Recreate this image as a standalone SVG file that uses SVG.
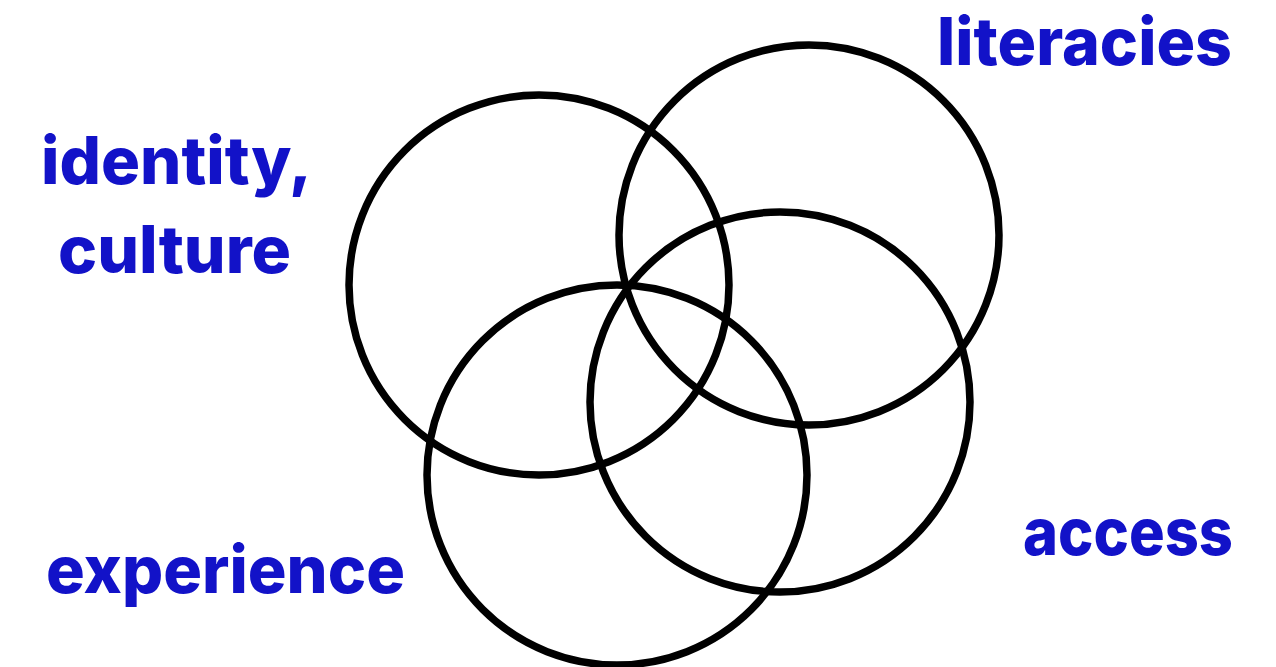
<svg xmlns="http://www.w3.org/2000/svg" width="1276" height="667" viewBox="0 0 1276 667">
<style>
.c{fill:none;stroke:#000;stroke-width:7.5}
.t{font-family:Inter,"Open Sans",sans-serif;font-weight:800;font-size:66px;fill:#1212c8}
</style>
<rect width="1276" height="667" fill="#fff"/>
<g id="circles">
<g id="circle-identity"><circle class="c" cx="539" cy="285" r="190"/></g>
<g id="circle-literacies"><circle class="c" cx="809" cy="235" r="190"/></g>
<g id="circle-access"><circle class="c" cx="780" cy="402" r="190"/></g>
<g id="circle-experience"><circle class="c" cx="617" cy="475" r="190"/></g>
</g>
<g id="labels">
<text class="t" x="41" y="184" textLength="271" lengthAdjust="spacingAndGlyphs">identity,</text>
<text class="t" x="58" y="273" textLength="233" lengthAdjust="spacingAndGlyphs">culture</text>
<text class="t" x="937" y="65" textLength="295" lengthAdjust="spacingAndGlyphs">literacies</text>
<text class="t" x="1023" y="555" textLength="210" lengthAdjust="spacingAndGlyphs">access</text>
<text class="t" x="46" y="593" textLength="359" lengthAdjust="spacingAndGlyphs">experience</text>
</g>
</svg>
